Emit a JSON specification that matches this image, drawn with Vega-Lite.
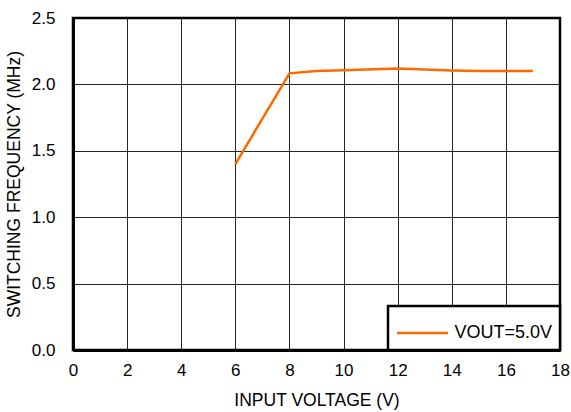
{
  "$schema": "https://vega.github.io/schema/vega-lite/v6.json",
  "width": 487,
  "height": 332,
  "autosize": {"type": "none"},
  "padding": {"left": 73, "top": 18, "right": 11, "bottom": 62},
  "background": "white",
  "config": {
    "font": "Liberation Sans",
    "view": {"stroke": "black", "strokeWidth": 2.5},
    "axis": {
      "labelFont": "Liberation Sans",
      "titleFont": "Liberation Sans",
      "labelFontSize": 17,
      "titleFontSize": 17.5,
      "labelColor": "black",
      "titleColor": "black",
      "titleFontWeight": "normal",
      "ticks": false,
      "domainColor": "black",
      "domainWidth": 3,
      "gridColor": "black",
      "gridWidth": 1,
      "gridOpacity": 0.85
    },
    "legend": {
      "labelFont": "Liberation Sans",
      "labelFontSize": 18,
      "labelColor": "black"
    }
  },
  "data": {
    "values": [
      {"vin": 6, "freq": 1.40, "series": "VOUT=5.0V"},
      {"vin": 8, "freq": 2.083, "series": "VOUT=5.0V"},
      {"vin": 9, "freq": 2.10, "series": "VOUT=5.0V"},
      {"vin": 10, "freq": 2.107, "series": "VOUT=5.0V"},
      {"vin": 12, "freq": 2.12, "series": "VOUT=5.0V"},
      {"vin": 14, "freq": 2.105, "series": "VOUT=5.0V"},
      {"vin": 15, "freq": 2.10, "series": "VOUT=5.0V"},
      {"vin": 16, "freq": 2.10, "series": "VOUT=5.0V"},
      {"vin": 17, "freq": 2.10, "series": "VOUT=5.0V"}
    ]
  },
  "mark": {"type": "line", "strokeWidth": 2.5},
  "encoding": {
    "x": {
      "field": "vin",
      "type": "quantitative",
      "scale": {"domain": [0, 18], "nice": false},
      "axis": {
        "title": "INPUT VOLTAGE (V)",
        "values": [0, 2, 4, 6, 8, 10, 12, 14, 16, 18],
        "labelPadding": 12,
        "titlePadding": 13,
        "labelFlush": false
      }
    },
    "y": {
      "field": "freq",
      "type": "quantitative",
      "scale": {"domain": [0, 2.5], "nice": false},
      "axis": {
        "title": "SWITCHING FREQUENCY (MHz)",
        "values": [0, 0.5, 1, 1.5, 2, 2.5],
        "format": ".1f",
        "labelPadding": 18,
        "titlePadding": 8,
        "labelFlush": false
      }
    },
    "color": {
      "field": "series",
      "type": "nominal",
      "scale": {"range": ["#FF6A00"]},
      "legend": {
        "title": null,
        "orient": "bottom-right",
        "offset": 0,
        "symbolType": "M-1,0H1.833",
        "symbolSize": 1296,
        "symbolStrokeWidth": 2.5,
        "labelOffset": 20,
        "padding": 7.5,
        "strokeColor": "black",
        "fillColor": "white",
        "encode": {"legend": {"update": {"strokeWidth": {"value": 2.5}}}}
      }
    }
  }
}
